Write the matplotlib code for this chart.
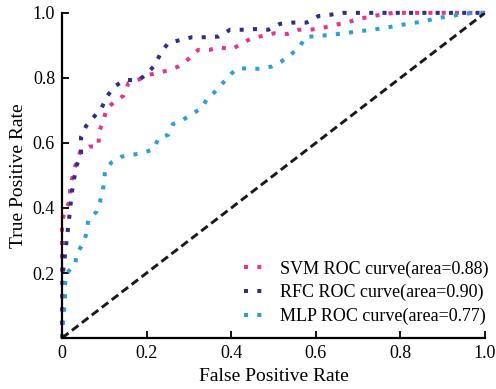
import numpy as np
import matplotlib.pyplot as plt

plt.rcParams['font.family'] = ['Liberation Serif', 'DejaVu Serif']

# ROC points
svm_fpr = [0, 0, 0.007, 0.019, 0.019, 0.023, 0.031, 0.043, 0.065, 0.086, 0.088, 0.098,
           0.106, 0.125, 0.145, 0.157, 0.180, 0.204, 0.228, 0.251, 0.275, 0.299, 0.322,
           0.348, 0.372, 0.401, 0.427, 0.448, 0.474, 0.501, 0.533, 0.559, 0.586, 0.614,
           0.645, 0.673, 0.700, 0.724, 0.752, 0.783, 1.0]
svm_tpr = [0, 0.36, 0.389, 0.425, 0.455, 0.486, 0.527, 0.573, 0.589, 0.589, 0.635, 0.671,
           0.707, 0.727, 0.745, 0.784, 0.794, 0.809, 0.816, 0.823, 0.835, 0.858, 0.886,
           0.886, 0.894, 0.888, 0.907, 0.922, 0.929, 0.937, 0.935, 0.948, 0.948, 0.953,
           0.963, 0.970, 0.981, 0.987, 0.994, 1.0, 1.0]

rfc_fpr = [0, 0.003, 0.007, 0.011, 0.015, 0.019, 0.023, 0.028, 0.035, 0.045, 0.045, 0.057,
           0.076, 0.094, 0.108, 0.125, 0.151, 0.180, 0.200, 0.220, 0.234, 0.251, 0.275,
           0.307, 0.338, 0.370, 0.397, 0.425, 0.456, 0.488, 0.515, 0.545, 0.578, 0.606,
           0.634, 0.664, 1.0]
rfc_tpr = [0, 0.209, 0.255, 0.302, 0.345, 0.394, 0.445, 0.486, 0.532, 0.568, 0.619, 0.652,
           0.681, 0.709, 0.746, 0.775, 0.794, 0.792, 0.812, 0.840, 0.878, 0.907, 0.915,
           0.925, 0.925, 0.927, 0.948, 0.948, 0.950, 0.948, 0.966, 0.970, 0.970, 0.990,
           0.994, 1.0, 1.0]

mlp_fpr = [0, 0.003, 0.007, 0.007, 0.011, 0.031, 0.035, 0.050, 0.058, 0.062, 0.082, 0.090,
           0.098, 0.102, 0.117, 0.141, 0.169, 0.192, 0.216, 0.228, 0.251, 0.262, 0.287,
           0.310, 0.330, 0.342, 0.362, 0.380, 0.401, 0.417, 0.444, 0.470, 0.496, 0.519,
           0.543, 0.563, 0.574, 0.602, 0.634, 0.665, 0.700, 0.732, 0.760, 0.791, 0.823,
           0.854, 0.886, 0.917, 0.948, 0.980, 1.0]
mlp_tpr = [0, 0.065, 0.107, 0.163, 0.200, 0.225, 0.260, 0.291, 0.322, 0.363, 0.389, 0.420,
           0.466, 0.517, 0.540, 0.558, 0.564, 0.570, 0.580, 0.614, 0.625, 0.658, 0.672,
           0.691, 0.707, 0.734, 0.758, 0.784, 0.814, 0.830, 0.828, 0.828, 0.835, 0.851,
           0.874, 0.897, 0.925, 0.929, 0.932, 0.937, 0.943, 0.948, 0.953, 0.960, 0.968,
           0.973, 0.984, 0.989, 0.997, 1.0, 1.0]

labels = ['SVM ROC curve(area=0.88)', 'RFC ROC curve(area=0.90)', 'MLP ROC curve(area=0.77)']
colors = ['#E8358C', '#2B2F8E', '#2C9ED8']

fig = plt.figure(figsize=(4.96, 3.89), dpi=100)
ax = fig.add_axes([0.125, 0.131, 0.853, 0.836])

dots = (0, (1, 2.3))
for fpr, tpr, lab, c in zip([svm_fpr, rfc_fpr, mlp_fpr], [svm_tpr, rfc_tpr, mlp_tpr], labels, colors):
    ax.plot(fpr, tpr, color=c, lw=2.9, linestyle=dots, dash_capstyle='butt',
            label=lab, clip_on=False)

ax.plot([0, 1], [0, 1], color='#1a1a1a', lw=2.1, linestyle=(0, (2.8, 1.5)))

ax.set_xlim(0, 1)
ax.set_ylim(0, 1)
ax.set_xticks([0, 0.2, 0.4, 0.6, 0.8, 1.0])
ax.set_xticklabels(['0', '0.2', '0.4', '0.6', '0.8', '1.0'])
ax.set_yticks([0.2, 0.4, 0.6, 0.8, 1.0])
ax.set_yticklabels(['0.2', '0.4', '0.6', '0.8', '1.0'])
ax.tick_params(direction='in', length=5, width=1.3, labelsize=13, pad=5)
for s in ['top', 'right']:
    ax.spines[s].set_visible(False)
for s in ['left', 'bottom']:
    ax.spines[s].set_linewidth(1.6)

ax.set_xlabel('False Positive Rate', fontsize=14, labelpad=4)
ax.set_ylabel('True Positive Rate', fontsize=14, labelpad=4)

ax.legend(loc='lower right', frameon=False, fontsize=13, handlelength=0.95,
          handletextpad=1.0, labelspacing=0.35, borderaxespad=0, borderpad=0,
          bbox_to_anchor=(0.984, 0.1645), bbox_transform=fig.transFigure)

fig.savefig('out.png', dpi=100)
